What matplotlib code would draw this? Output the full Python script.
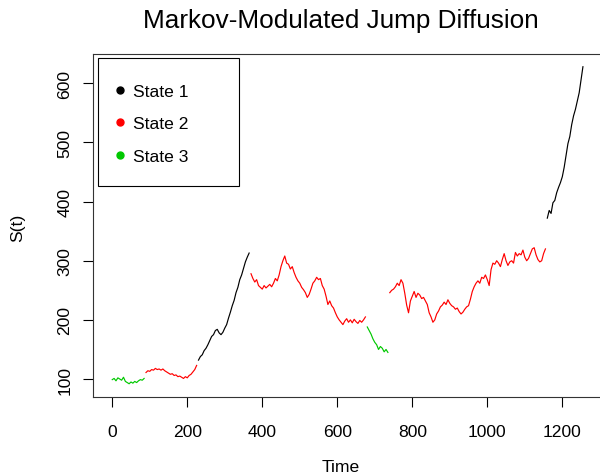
import numpy as np
import matplotlib.pyplot as plt
from matplotlib.lines import Line2D
from matplotlib.patches import Rectangle

plt.rcParams['font.family'] = ['Liberation Sans', 'DejaVu Sans']

# segments of the path: (start time, state, values every 5 time steps)
step = 5

seg1_start, seg1_state = 0, 3
seg1_vals = [99, 101, 97, 102, 100, 98, 103, 96, 94, 92, 95, 93, 96, 94, 97, 99, 98, 101]

seg2_start, seg2_state = 90, 2
seg2_vals = [111, 114, 113, 116, 115, 118, 116, 117, 115, 117, 114, 112, 110, 108,
             109, 106, 107, 104, 105, 103, 101, 104, 102, 106, 108, 112, 116, 123]

seg3_start, seg3_state = 230, 1
seg3_vals = [132, 138, 141, 148, 152, 158, 165, 172, 175, 182, 184, 178, 175, 179,
             186, 192, 203, 213, 224, 233, 246, 255, 268, 276, 287, 298, 306, 313]

seg4_start, seg4_state = 370, 2
seg4_vals = [278, 270, 264, 268, 258, 255, 252, 258, 254, 257, 260, 256, 262, 270,
             266, 276, 290, 300, 308, 296, 294, 286, 290, 280, 272, 266, 262, 255,
             251, 246, 238, 243, 252, 262, 266, 272, 268, 270, 258, 252, 240, 226,
             232, 224, 220, 212, 205, 200, 196, 192, 198, 202, 196, 200, 195, 201,
             197, 194, 199, 196, 200, 205]

seg5_start, seg5_state = 680, 3
seg5_vals = [188, 182, 176, 168, 162, 158, 150, 155, 152, 146, 150, 145]

seg6_start, seg6_state = 740, 2
seg6_vals = [246, 250, 252, 256, 262, 258, 268, 262, 245, 225, 212, 232, 240, 248,
             238, 245, 242, 236, 238, 232, 226, 212, 205, 196, 200, 210, 215, 222,
             225, 230, 226, 234, 228, 224, 222, 218, 220, 214, 210, 213, 218, 222,
             224, 235, 248, 256, 262, 266, 262, 272, 270, 276, 268, 258, 285, 296,
             294, 300, 296, 290, 302, 312, 300, 292, 298, 300, 296, 314, 308, 312,
             310, 318, 306, 300, 304, 312, 320, 322, 310, 302, 298, 300, 312, 320]

seg7_start, seg7_state = 1160, 1
seg7_vals = [372, 385, 380, 398, 402, 415, 424, 432, 442, 458, 478, 498, 510, 530,
             545, 556, 570, 584, 606, 628]

segments = [(seg1_start, seg1_state, seg1_vals), (seg2_start, seg2_state, seg2_vals),
            (seg3_start, seg3_state, seg3_vals), (seg4_start, seg4_state, seg4_vals),
            (seg5_start, seg5_state, seg5_vals), (seg6_start, seg6_state, seg6_vals),
            (seg7_start, seg7_state, seg7_vals)]

state_colors = {1: 'black', 2: '#FF0000', 3: '#00C800'}
state_labels = ['State 1', 'State 2', 'State 3']

fig = plt.figure(figsize=(6, 4.77), dpi=100)
ax = fig.add_axes([0.1555, 0.1656, 0.8495, 0.7197])

for start, state, vals in segments:
    t = start + step * np.arange(len(vals))
    ax.plot(t, vals, color=state_colors[state], lw=0.85)

ax.set_xlim(-50.5, 1308.5)
ax.set_ylim(69.6, 650)
ax.set_xticks(range(0, 1201, 200))
ax.set_yticks(range(100, 601, 100))
ax.tick_params(direction='out', length=7.2, width=0.8, labelsize=12.6, colors='black')
ax.tick_params(axis='x', pad=12)
ax.tick_params(axis='y', pad=8)
for lbl in ax.get_yticklabels():
    lbl.set_rotation(90)
    lbl.set_va('center')
for s in ax.spines.values():
    s.set_linewidth(0.8)
    s.set_color('#333333')

fig.text(340.8 / 600, 1 - 27.7 / 477, 'Markov-Modulated Jump Diffusion',
         ha='center', va='baseline', fontsize=18.8)
fig.text(341 / 600, 1 - 467.5 / 477, 'Time', ha='center', va='center', fontsize=12.6)
fig.text(18 / 600, 1 - 227.5 / 477, 'S(t)', ha='center', va='center', rotation=90,
         fontsize=12.6)

# legend box drawn separately, entries placed inside it
ax.add_patch(Rectangle((0.0098, 0.6155), 0.2761, 0.3711, transform=ax.transAxes,
                       facecolor='white', edgecolor='black', lw=0.8, zorder=4))
handles = [Line2D([], [], ls='none', marker='o', markersize=5,
                  color=state_colors[k]) for k in (1, 2, 3)]
leg = ax.legend(handles, state_labels, loc='upper left',
                bbox_to_anchor=(0.0098, 0.9735), borderaxespad=0, fontsize=12.6,
                frameon=False, borderpad=1.2, labelspacing=0.98,
                handlelength=0.1, handletextpad=0.71)
leg.set_zorder(5)

fig.savefig('out.png', dpi=100)
